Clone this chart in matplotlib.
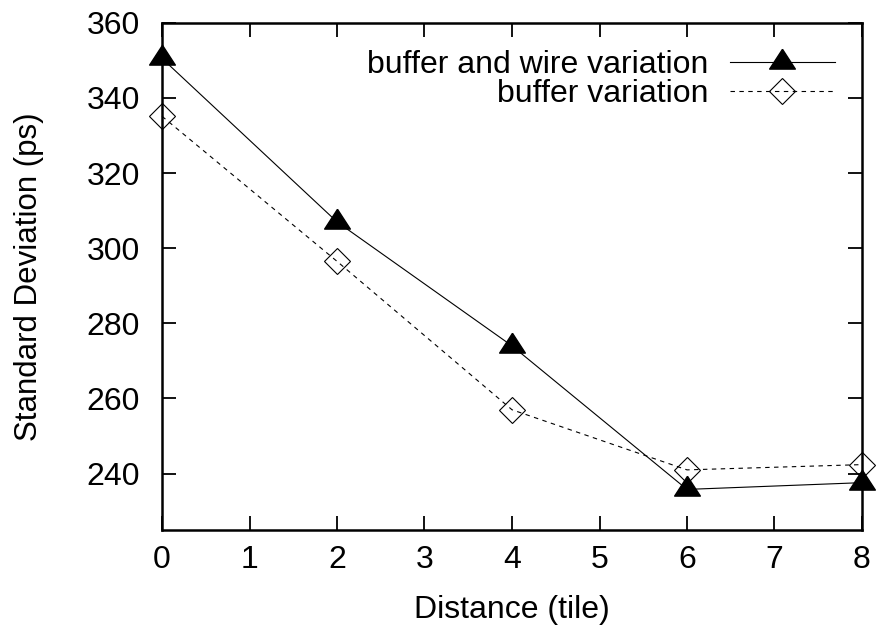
import matplotlib
matplotlib.use("Agg")
import matplotlib.pyplot as plt

# Standard deviation of skew vs. tile distance
distance = [0, 2, 4, 6, 8]
buffer_and_wire = [350.5, 307.0, 274.0, 235.8, 237.6]
buffer_only = [335.1, 296.5, 257.0, 241.0, 242.4]

x_ticks = [0, 1, 2, 3, 4, 5, 6, 7, 8]
y_ticks = [240, 260, 280, 300, 320, 340, 360]

FS = 23
plt.rcParams["font.family"] = ["Liberation Sans", "DejaVu Sans"]
plt.rcParams["font.size"] = FS

# gnuplot-style triangle: wider than tall, centred on its centroid
tri = [(0, 4 / 3), (-1.3, -2 / 3), (1.3, -2 / 3), (0, 4 / 3)]

fig = plt.figure(figsize=(8.78, 6.34), dpi=100)
ax = fig.add_axes([162 / 878, 1 - 530 / 634, 700 / 878, 507.3 / 634])

ax.plot(distance, buffer_and_wire, color="black", lw=0.8, marker=tri,
        markersize=19, markerfacecolor="black", markeredgecolor="black",
        clip_on=False, zorder=3, label="buffer and wire variation")
ax.plot(distance, buffer_only, color="black", lw=0.8, ls=(0, (4, 4)),
        marker="D", markersize=13.5, markerfacecolor="none",
        markeredgecolor="black", markeredgewidth=0.8, clip_on=False,
        zorder=3, label="buffer variation")

ax.set_xlim(0, 8)
ax.set_ylim(225, 360)
ax.set_xticks(x_ticks)
ax.set_yticks(y_ticks)
ax.tick_params(direction="in", length=10, width=1.3, top=True, right=True,
               labelsize=FS)
ax.tick_params(axis="x", pad=11)
ax.tick_params(axis="y", pad=16)
for s in ax.spines.values():
    s.set_linewidth(1.8)

ax.set_xlabel("Distance (tile)", fontsize=FS)
ax.set_ylabel("Standard Deviation (ps)", fontsize=22.5)
ax.xaxis.set_label_coords(0.5, -0.158)
ax.yaxis.set_label_coords(-0.19, 0.5)
ax.xaxis.label.set_va("center")
ax.yaxis.label.set_va("center")

leg = ax.legend(loc="upper right", frameon=False, markerfirst=False,
                numpoints=1, handlelength=3.3, handletextpad=0.65,
                labelspacing=-0.04, borderpad=0, borderaxespad=0,
                fontsize=FS)
leg.set_bbox_to_anchor((835 / 878, 1 - 50 / 634), transform=fig.transFigure)

fig.savefig("out.png", dpi=100)
